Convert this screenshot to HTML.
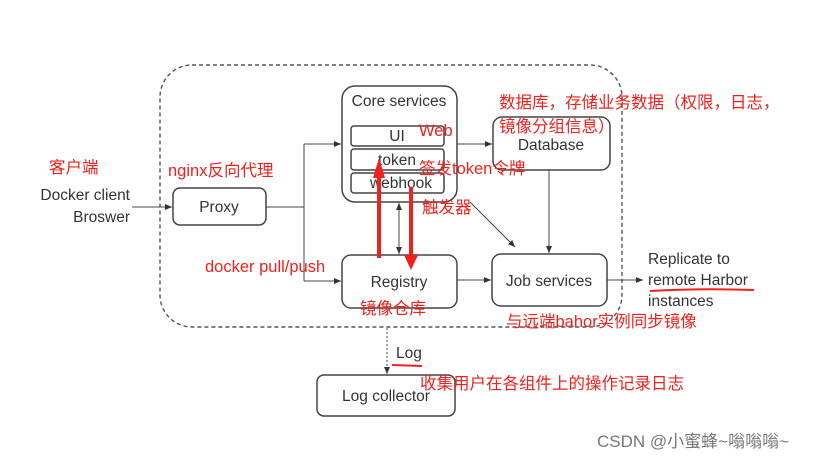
<!DOCTYPE html>
<html><head><meta charset="utf-8"><style>
html,body{margin:0;padding:0;background:#fff;}
svg{display:block;}
text{font-family:"Liberation Sans","Noto Sans CJK SC",sans-serif;}
.b{font-size:15.5px;fill:#333;}
.r{font-size:16.5px;fill:#f0201c;}
</style></head><body>
<svg width="830" height="461" viewBox="0 0 830 461" xmlns="http://www.w3.org/2000/svg">
<defs>
<marker id="a" markerWidth="8" markerHeight="8" refX="7" refY="4" orient="auto" markerUnits="userSpaceOnUse"><path d="M0,1 L7,4 L0,7z" fill="#333"/></marker>
</defs>
<rect x="160" y="65" width="462" height="262" rx="32" fill="none" stroke="#555" stroke-width="1.4" stroke-dasharray="4,3"/>
<g fill="#fff" stroke="#444" stroke-width="1.5">
<rect x="342" y="86" width="115" height="116" rx="13"/>
<rect x="351" y="126" width="93" height="20" rx="3"/>
<rect x="351" y="149" width="93" height="21" rx="3"/>
<rect x="351" y="173" width="93" height="20" rx="3"/>
<rect x="493" y="117" width="117" height="53" rx="9"/>
<rect x="173" y="188" width="93" height="37" rx="7"/>
<rect x="342" y="255" width="115" height="53" rx="9"/>
<rect x="492" y="254" width="115" height="52" rx="9"/>
<rect x="317" y="375" width="138" height="41" rx="7"/>
</g>
<g stroke="#444" stroke-width="1" fill="none">
<line x1="132" y1="207" x2="172" y2="207" marker-end="url(#a)"/>
<polyline points="266,207 304,207"/>
<polyline points="304,144 304,281"/>
<line x1="304" y1="144" x2="341" y2="144" marker-end="url(#a)"/>
<line x1="304" y1="281" x2="341" y2="281" marker-end="url(#a)"/>
<line x1="457" y1="144" x2="492" y2="144" marker-end="url(#a)"/>
<line x1="549" y1="170" x2="549" y2="253" marker-end="url(#a)"/>
<line x1="399" y1="212" x2="399" y2="254" marker-end="url(#a)"/>
<line x1="399" y1="250" x2="399" y2="203" marker-end="url(#a)"/>
<line x1="470" y1="202" x2="515" y2="247" marker-end="url(#a)"/>
<line x1="457" y1="280" x2="491" y2="280" marker-end="url(#a)"/>
<line x1="607" y1="280" x2="643" y2="280" marker-end="url(#a)"/>
<line x1="387" y1="328" x2="387" y2="374" stroke-dasharray="2,2" marker-end="url(#a)"/>
</g>
<g class="b">
<text x="399" y="106" text-anchor="middle">Core services</text>
<text x="397" y="141" text-anchor="middle">UI</text>
<text x="397" y="165" text-anchor="middle">token</text>
<text x="401" y="188" text-anchor="middle">webhook</text>
<text x="551" y="150" text-anchor="middle">Database</text>
<text x="219" y="212" text-anchor="middle">Proxy</text>
<text x="399" y="287" text-anchor="middle">Registry</text>
<text x="549" y="286" text-anchor="middle">Job services</text>
<text x="386" y="401" text-anchor="middle">Log collector</text>
<text x="130" y="200" text-anchor="end">Docker client</text>
<text x="130" y="222" text-anchor="end">Broswer</text>
<text x="648" y="264">Replicate to</text>
<text x="648" y="285">remote Harbor</text>
<text x="648" y="306">instances</text>
<text x="396" y="358">Log</text>
</g>
<g stroke="#f0201c" stroke-width="2" fill="none">
<path d="M650,291 Q700,288 754,290"/>
<path d="M392,365 L422,366"/>
</g>
<g fill="#f0201c">
<rect x="377" y="172" width="4" height="86"/>
<path d="M373,178 L379,158 L385,178z"/>
<rect x="409" y="187" width="4" height="72"/>
<path d="M404,255 L411,270 L418,255z"/>
</g>
<g class="r">
<text x="49" y="173">客户端</text>
<text x="168" y="176">nginx反向代理</text>
<text x="419" y="136">Web</text>
<text x="419" y="174">签发token令牌</text>
<text x="422" y="213">触发器</text>
<text x="499" y="108">数据库，存储业务数据（权限，日志，</text>
<text x="499" y="132">镜像分组信息）</text>
<text x="205" y="272">docker pull/push</text>
<text x="360" y="314">镜像仓库</text>
<text x="506" y="327">与远端bahor实例同步镜像</text>
<text x="420" y="389">收集用户在各组件上的操作记录日志</text>
</g>
<text x="597" y="447" style="font-size:17px;fill:#777">CSDN @小蜜蜂~嗡嗡嗡~</text>
</svg>
</body></html>
